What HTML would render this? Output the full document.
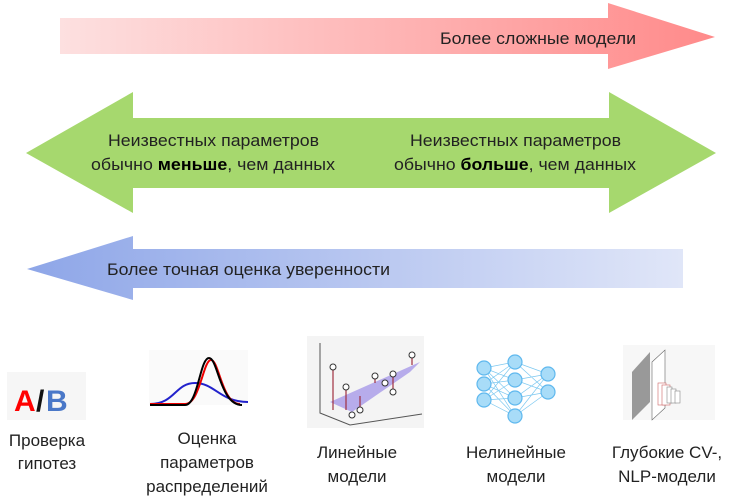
<!DOCTYPE html>
<html><head><meta charset="utf-8"><style>
html,body{margin:0;padding:0;background:#fff}
svg{display:block}
text{font-family:"Liberation Sans",sans-serif;fill:#222}
</style></head><body>
<svg width="729" height="504" viewBox="0 0 729 504" xmlns="http://www.w3.org/2000/svg">
<defs>
<linearGradient id="r" x1="60" x2="715" gradientUnits="userSpaceOnUse"><stop offset="0" stop-color="#fde0e0"/><stop offset="1" stop-color="#ff8a8a"/></linearGradient>
<linearGradient id="b" x1="27" x2="683" gradientUnits="userSpaceOnUse"><stop offset="0" stop-color="#8ea6e8"/><stop offset="1" stop-color="#e0e6f8"/></linearGradient>
</defs>
<polygon points="60,18 608,18 608,3 715,37 608,69 608,54 60,54" fill="url(#r)"/>
<polygon points="26,153 133,92 133,118 609,118 609,92 716,153 609,213 609,188 133,188 133,213" fill="#a6d86e"/>
<polygon points="27,269 133,236 133,249 683,249 683,288 133,288 133,300" fill="url(#b)"/>
<text x="440" y="44" font-size="17" textLength="196" lengthAdjust="spacingAndGlyphs">Более сложные модели</text>
<text x="108" y="146" font-size="17" textLength="211" lengthAdjust="spacingAndGlyphs">Неизвестных параметров</text>
<text x="91" y="170" font-size="17" textLength="244" lengthAdjust="spacingAndGlyphs">обычно <tspan font-weight="bold" fill="#000">меньше</tspan>, чем данных</text>
<text x="410" y="146" font-size="17" textLength="211" lengthAdjust="spacingAndGlyphs">Неизвестных параметров</text>
<text x="394" y="170" font-size="17" textLength="242" lengthAdjust="spacingAndGlyphs">обычно <tspan font-weight="bold" fill="#000">больше</tspan>, чем данных</text>
<text x="107" y="275" font-size="17" textLength="283" lengthAdjust="spacingAndGlyphs">Более точная оценка уверенности</text>
<!-- A/B -->
<rect x="7" y="372" width="79" height="48" fill="#f6f6f6"/>
<text x="14" y="411" font-size="30" font-weight="bold" style="fill:#f00">A</text>
<text x="36" y="411" font-size="30" font-weight="bold" style="fill:#111">/</text>
<text x="46" y="411" font-size="30" font-weight="bold" style="fill:#4a78c8">B</text>
<!-- gaussian -->
<rect x="149" y="350" width="99" height="55" fill="#fafafa"/>
<path d="M150,404 C175,404 175,383 195,383 C215,383 220,402 248,402" stroke="#22c" stroke-width="2" fill="none"/>
<path d="M150,404 L185,404 C200,404 203,360 211,360 C219,360 222,404 240,404" stroke="#e00" stroke-width="2" fill="none"/>
<path d="M150,405 L185,405 C198,405 200,358 209,358 C218,358 220,405 242,405" stroke="#000" stroke-width="2" fill="none"/>
<!-- linear -->
<rect x="307" y="336" width="117" height="92" fill="#f4f4f4"/>
<path d="M320,343 L320,413 L350,425 L422,414" stroke="#555" fill="none"/>
<polygon points="330,402 420,362 410,372 352,412" fill="#a89ae8" opacity="0.8"/>
<g stroke="#a03040" stroke-width="1.2"><line x1="333" y1="367" x2="333" y2="410"/><line x1="346" y1="387" x2="346" y2="410"/><line x1="360" y1="396" x2="360" y2="408"/><line x1="375" y1="376" x2="375" y2="383"/><line x1="393" y1="374" x2="393" y2="392"/><line x1="412" y1="355" x2="412" y2="365"/></g>
<g fill="#fff" stroke="#333"><circle cx="333" cy="367" r="3"/><circle cx="346" cy="387" r="3"/><circle cx="360" cy="410" r="3"/><circle cx="375" cy="376" r="3"/><circle cx="393" cy="374" r="3"/><circle cx="393" cy="392" r="3"/><circle cx="412" cy="355" r="3"/><circle cx="385" cy="383" r="3"/><circle cx="352" cy="415" r="3"/></g>
<!-- NN -->
<g stroke="#7cc8f0" stroke-width="0.7" transform="translate(0,-10)">
<path d="M484,378 L515,372 M484,378 L515,390 M484,378 L515,408 M484,378 L515,426 M484,394 L515,372 M484,394 L515,390 M484,394 L515,408 M484,394 L515,426 M484,410 L515,372 M484,410 L515,390 M484,410 L515,408 M484,410 L515,426 M515,372 L548,384 M515,390 L548,384 M515,408 L548,384 M515,426 L548,384 M515,372 L548,402 M515,390 L548,402 M515,408 L548,402 M515,426 L548,402"/>
</g>
<g fill="#a8dcf8" stroke="#5fb8ee" stroke-width="1.2" transform="translate(0,-10)">
<circle cx="484" cy="378" r="7"/><circle cx="484" cy="394" r="7"/><circle cx="484" cy="410" r="7"/>
<circle cx="515" cy="372" r="7"/><circle cx="515" cy="390" r="7"/><circle cx="515" cy="408" r="7"/><circle cx="515" cy="426" r="7"/>
<circle cx="548" cy="384" r="7"/><circle cx="548" cy="402" r="7"/></g>
<!-- CNN -->
<rect x="623" y="345" width="92" height="75" fill="#f7f7f7"/>
<polygon points="632,372 650,352 650,402 632,420" fill="#999"/>
<polygon points="652,362 665,350 665,408 652,420" fill="#fff" stroke="#666" stroke-width="0.6"/>
<g fill="#fff" stroke="#c66" stroke-width="0.6"><rect x="658" y="383" width="8" height="22"/><rect x="662" y="385" width="8" height="20"/></g>
<g fill="#fff" stroke="#888" stroke-width="0.6"><rect x="667" y="387" width="5" height="16"/><rect x="671" y="389" width="5" height="14"/><rect x="675" y="391" width="5" height="12"/></g>
<!-- labels -->
<g font-size="17" text-anchor="middle">
<text x="47" y="446">Проверка</text><text x="47" y="469">гипотез</text>
<text x="207" y="444">Оценка</text><text x="207" y="468">параметров</text><text x="207" y="492">распределений</text>
<text x="357" y="458">Линейные</text><text x="357" y="482">модели</text>
<text x="516" y="458">Нелинейные</text><text x="516" y="482">модели</text>
<text x="667" y="458">Глубокие CV-,</text><text x="667" y="482">NLP-модели</text>
</g>
</svg>
</body></html>
